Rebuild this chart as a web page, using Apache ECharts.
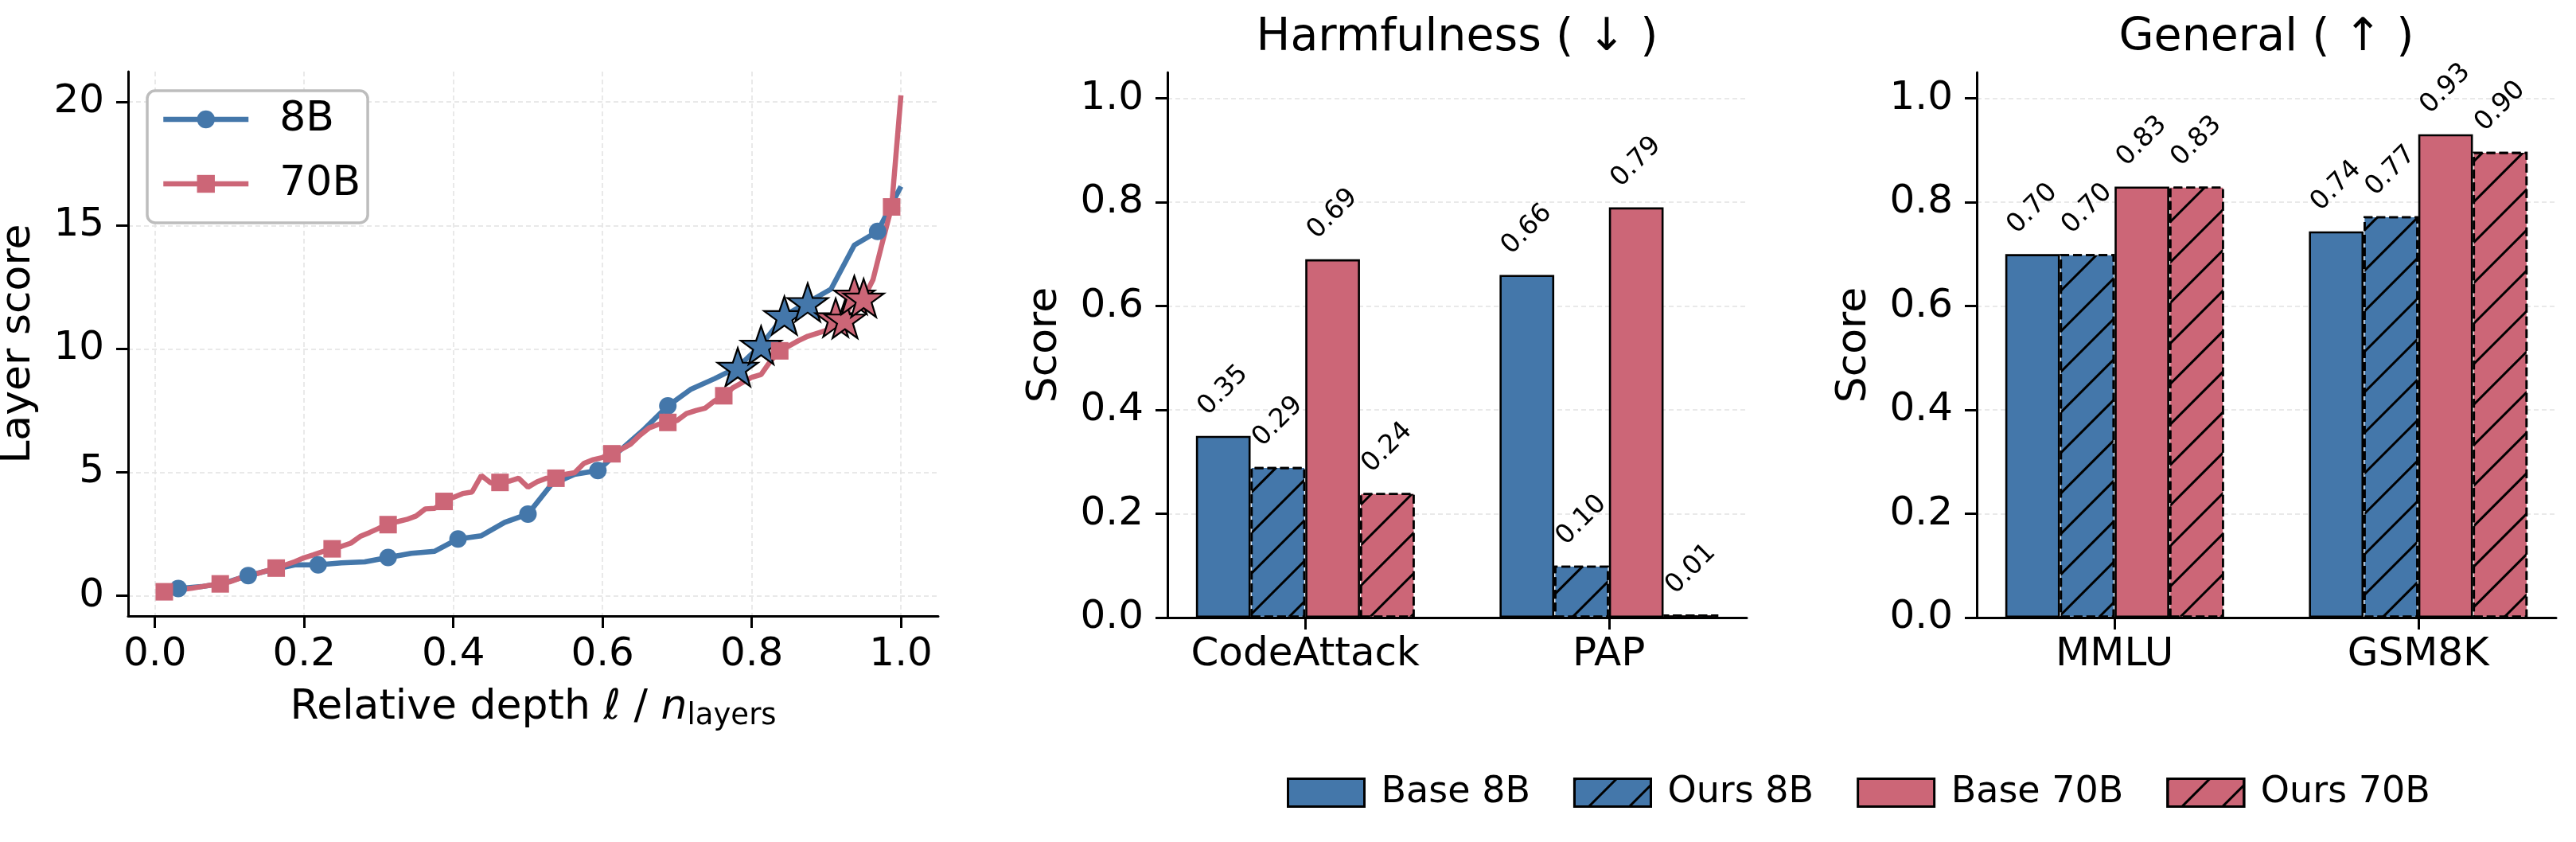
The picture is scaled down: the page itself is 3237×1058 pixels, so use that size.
<!DOCTYPE html>
<html>
<head>
<meta charset="utf-8">
<script src="https://cdn.jsdelivr.net/npm/echarts@6.0.0/dist/echarts.min.js"></script>
<style>
  html, body { margin: 0; padding: 0; background: #fff; }
  #chart { width: 3237px; height: 1058px; }
</style>
</head>
<body>
<div id="chart"></div>
<script>
// layer score per layer (layer 1..n)
const layerScore8B = [0.29, 0.37, 0.52, 0.82, 1.05, 1.25, 1.25, 1.33, 1.37, 1.55,
  1.72, 1.80, 2.30, 2.43, 2.97, 3.31, 4.50, 4.92, 5.07, 5.93,
  6.76, 7.69, 8.37, 8.79, 9.26, 10.15, 11.35, 11.88, 12.42, 14.20,
  14.76, 16.58];
const layerScore70B = [0.16, 0.21, 0.26, 0.31, 0.37, 0.43, 0.48, 0.56, 0.70, 0.82,
  0.90, 1.01, 1.12, 1.25, 1.38, 1.54, 1.66, 1.79, 1.90, 2.00,
  2.13, 2.40, 2.56, 2.73, 2.88, 3.00, 3.09, 3.23, 3.52, 3.54,
  3.82, 3.98, 4.14, 4.20, 4.87, 4.57, 4.59, 4.64, 4.76, 4.40,
  4.62, 4.76, 4.76, 4.92, 4.98, 5.36, 5.51, 5.60, 5.75, 5.93,
  6.14, 6.50, 6.80, 6.94, 7.02, 7.10, 7.38, 7.50, 7.60, 7.89,
  8.10, 8.43, 8.64, 8.85, 8.96, 9.50, 9.92, 10.12, 10.33, 10.51,
  10.63, 10.75, 11.26, 11.21, 12.18, 12.06, 12.80, 14.30, 15.75, 20.27];
const markLayers8B = [1, 4, 7, 10, 13, 16, 19, 22, 31];
const markLayers70B = [1, 7, 13, 19, 25, 31, 37, 43, 49, 55, 61, 67, 79];
const starLayers8B = [25, 26, 27, 28];
const starLayers70B = [73, 74, 75, 76];
const depthTicks = [0, 0.2, 0.4, 0.6, 0.8, 1.0];
const layerScoreTicks = [0, 5, 10, 15, 20];

// bar panels
const harmCategories = ['CodeAttack', 'PAP'];
const harmBase8B = [0.35, 0.66];
const harmOurs8B = [0.29, 0.10];
const harmBase70B = [0.69, 0.79];
const harmOurs70B = [0.24, 0.006];
const generalCategories = ['MMLU', 'GSM8K'];
const generalBase8B = [0.70, 0.744];
const generalOurs8B = [0.70, 0.773];
const generalBase70B = [0.83, 0.931];
const generalOurs70B = [0.83, 0.897];
const scoreTicks = [0, 0.2, 0.4, 0.6, 0.8, 1.0];

const FONT = "'DejaVu Sans', sans-serif";
const BLUE = '#4477AA';
const RED = '#CC6677';
const STAR = 'path://M50,0L61.8,35.1L98.1,35.1L68.8,56.8L79.4,91.5L50,70L20.6,91.5L31.2,56.8L1.9,35.1L38.2,35.1Z';
const HATCH = {
  symbol: 'rect', symbolSize: 1, color: '#000',
  dashArrayX: [1, 0], dashArrayY: [2.6, 32.4], rotation: -Math.PI / 4
};

function layerPoints(scores, markLayers, starLayers, color) {
  const n = scores.length;
  return scores.map(function (v, i) {
    const layer = i + 1;
    const p = { value: [layer / n, v] };
    if (starLayers.indexOf(layer) >= 0) {
      p.symbol = STAR;
      p.symbolSize = [51, 48];
      p.itemStyle = { color: color, borderColor: '#000', borderWidth: 2.2 };
    } else if (markLayers.indexOf(layer) < 0) {
      p.symbol = 'none';
    }
    return p;
  });
}

const spine = { show: true, onZero: false, lineStyle: { color: '#000', width: 3 } };
const tick = { length: 15, lineStyle: { color: '#000', width: 3 } };
const grid = { lineStyle: { color: '#e2e2e2', width: 1.5, type: [6, 4] } };
const tickFont = { fontSize: 50, color: '#000', fontFamily: FONT };

function barXAxis(idx, cats) {
  return {
    gridIndex: idx, type: 'value', min: -0.454, max: 1.454,
    axisLine: spine,
    axisTick: Object.assign({ customValues: [0, 1] }, tick),
    axisLabel: Object.assign({ customValues: [0, 1], margin: 22, formatter: function (v) { return cats[Math.round(v)]; } }, tickFont),
    splitLine: { show: false }
  };
}
function barYAxis(idx) {
  return {
    gridIndex: idx, type: 'value', min: 0, max: 1.05,
    axisLine: spine,
    axisTick: Object.assign({ customValues: scoreTicks }, tick),
    axisLabel: Object.assign({ customValues: scoreTicks, margin: 30, formatter: function (v) { return v.toFixed(1); } }, tickFont),
    splitLine: Object.assign({ show: true }, grid),
    name: 'Score', nameLocation: 'middle', nameGap: 128,
    nameTextStyle: { fontSize: 52, color: '#000', fontFamily: FONT }
  };
}
function barSeries(name, values, idx, color, hatched) {
  const style = { color: color, borderColor: '#000', borderWidth: 2.6, borderType: hatched ? [11, 5] : 'solid' };
  if (hatched) style.decal = HATCH;
  return {
    type: 'bar', name: name, xAxisIndex: idx, yAxisIndex: idx,
    barWidth: 68.7, barGap: '0%',
    data: values.map(function (v, i) { return [i, v]; }),
    itemStyle: style,
    label: {
      // offset is applied in the rotated frame: this puts the text centre 57px above the bar
      show: true, position: 'top', distance: 0, offset: [40.3, -40.3], rotate: 45,
      align: 'center', verticalAlign: 'middle',
      fontSize: 33, color: '#000', fontFamily: FONT,
      formatter: function (p) { return p.value[1].toFixed(2); }
    },
    emphasis: { disabled: true }
  };
}

const chart = echarts.init(document.getElementById('chart'), null, { renderer: 'canvas' });
chart.setOption({
  animation: false,
  backgroundColor: '#fff',
  textStyle: { fontFamily: FONT },
  title: [
    { text: 'Harmfulness ( ↓ )', left: 1831, top: 20, textAlign: 'center', padding: 0,
      textStyle: { fontSize: 57, fontWeight: 'normal', color: '#000', fontFamily: FONT } },
    { text: 'General ( ↑ )', left: 2848, top: 20, textAlign: 'center', padding: 0,
      textStyle: { fontSize: 57, fontWeight: 'normal', color: '#000', fontFamily: FONT } }
  ],
  grid: [
    { left: 161, top: 90, width: 1018, height: 684, outerBoundsMode: 'none' },
    { left: 1467, top: 91, width: 728, height: 685, outerBoundsMode: 'none' },
    { left: 2484, top: 91, width: 728, height: 685, outerBoundsMode: 'none' }
  ],
  legend: [
    {
      data: ['8B', '70B'], orient: 'vertical', left: 185, top: 114,
      padding: [10, 9, 23, 17], itemWidth: 107, itemHeight: 28, itemGap: 29,
      borderColor: '#bdbdbd', borderWidth: 3.5, borderRadius: 10, backgroundColor: '#fff',
      selectedMode: false,
      lineStyle: { width: 6.5 },
      textStyle: { fontSize: 52, color: '#000', fontFamily: FONT, padding: [0, 0, 0, 34] }
    },
    {
      data: ['Base 8B', 'Ours 8B', 'Base 70B', 'Ours 70B'], orient: 'horizontal',
      left: 1612, top: 968, icon: 'rect', itemWidth: 96, itemHeight: 35, itemGap: 54,
      selectedMode: false, itemStyle: { borderWidth: 3 },
      textStyle: { fontSize: 46, color: '#000', fontFamily: FONT, padding: [0, 0, 0, 16] }
    }
  ],
  xAxis: [
    {
      gridIndex: 0, type: 'value', min: -0.036, max: 1.05,
      axisLine: spine,
      axisTick: Object.assign({ customValues: depthTicks }, tick),
      axisLabel: Object.assign({ customValues: depthTicks, margin: 24, formatter: function (v) { return v.toFixed(1); } }, tickFont),
      splitLine: Object.assign({ show: true }, grid),
      name: '{t|Relative depth }{i|ℓ}{t| / }{i|n}{s|layers}',
      nameLocation: 'middle', nameGap: 85,
      nameTextStyle: {
        color: '#000', fontFamily: FONT,
        rich: {
          t: { fontSize: 52, lineHeight: 60, color: '#000', fontFamily: FONT },
          i: { fontSize: 52, lineHeight: 60, fontStyle: 'italic', color: '#000', fontFamily: FONT },
          s: { fontSize: 37, lineHeight: 30, verticalAlign: 'bottom', color: '#000', fontFamily: FONT }
        }
      }
    },
    barXAxis(1, harmCategories),
    barXAxis(2, generalCategories)
  ],
  yAxis: [
    {
      gridIndex: 0, type: 'value', min: -0.82, max: 21.23,
      axisLine: spine,
      axisTick: Object.assign({ customValues: layerScoreTicks }, tick),
      axisLabel: Object.assign({ customValues: layerScoreTicks, margin: 30 }, tickFont),
      splitLine: Object.assign({ show: true }, grid),
      name: 'Layer score', nameLocation: 'middle', nameGap: 112,
      nameTextStyle: { fontSize: 52, color: '#000', fontFamily: FONT }
    },
    barYAxis(1),
    barYAxis(2)
  ],
  series: [
    {
      type: 'line', name: '8B', xAxisIndex: 0, yAxisIndex: 0,
      data: layerPoints(layerScore8B, markLayers8B, starLayers8B, BLUE),
      symbol: 'circle', symbolSize: 22,
      lineStyle: { width: 6.5, color: BLUE }, itemStyle: { color: BLUE },
      emphasis: { disabled: true }
    },
    {
      type: 'line', name: '70B', xAxisIndex: 0, yAxisIndex: 0,
      data: layerPoints(layerScore70B, markLayers70B, starLayers70B, RED),
      symbol: 'rect', symbolSize: 22,
      lineStyle: { width: 6.5, color: RED }, itemStyle: { color: RED },
      emphasis: { disabled: true }
    },
    barSeries('Base 8B', harmBase8B, 1, BLUE, false),
    barSeries('Ours 8B', harmOurs8B, 1, BLUE, true),
    barSeries('Base 70B', harmBase70B, 1, RED, false),
    barSeries('Ours 70B', harmOurs70B, 1, RED, true),
    barSeries('Base 8B', generalBase8B, 2, BLUE, false),
    barSeries('Ours 8B', generalOurs8B, 2, BLUE, true),
    barSeries('Base 70B', generalBase70B, 2, RED, false),
    barSeries('Ours 70B', generalOurs70B, 2, RED, true)
  ]
});
</script>
</body>
</html>
